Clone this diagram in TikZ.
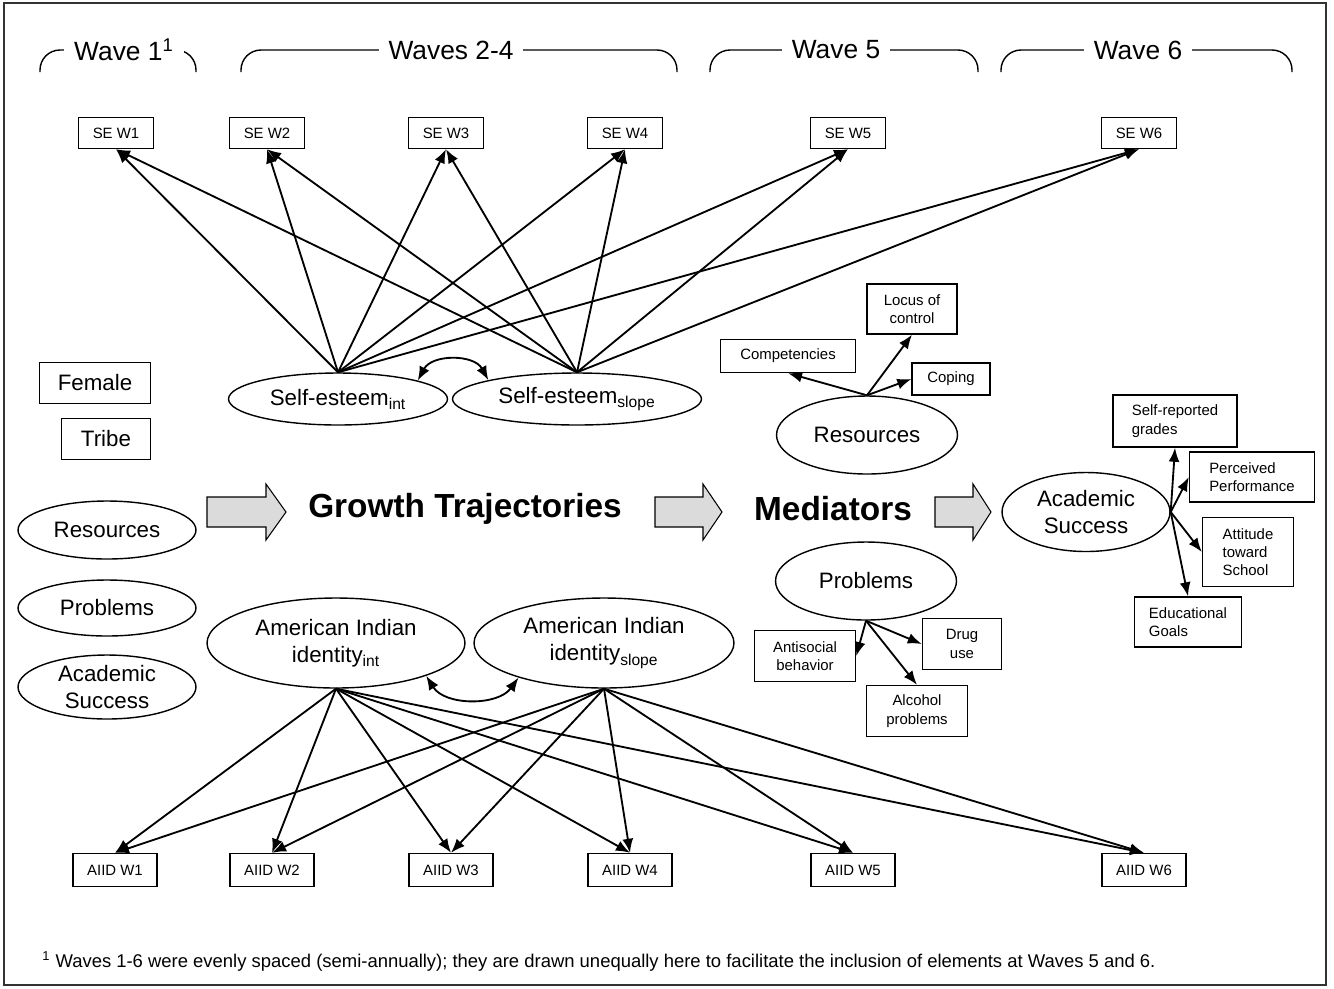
\documentclass[tikz,border=0pt]{standalone}
\usepackage{fontspec}
\setmainfont{Liberation Sans}
\usetikzlibrary{positioning,arrows.meta,shapes.geometric}
\tikzset{
  pathline/.style={-{Latex[length=8pt, width=6.2pt]}, line width=1.05pt},
  covline/.style={{Latex[length=8pt, width=6.2pt]}-{Latex[length=8pt, width=6.2pt]}, line width=1.05pt},
  obsbox/.style={draw, line width=0.8pt, minimum width=1.5cm, minimum height=0.62cm, inner sep=1pt, align=center, font=\fontsize{8.5}{10.4}\selectfont},
  aiidbox/.style={obsbox, minimum width=1.68cm, minimum height=0.66cm},
  latent/.style={draw, ellipse, line width=0.8pt, inner sep=0pt, align=center, font=\fontsize{12.7}{15.4}\selectfont},
  covbox/.style={draw, line width=0.8pt, minimum height=0.82cm, inner sep=1pt, font=\fontsize{12.7}{15.4}\selectfont},
  wavebrace/.style={line width=0.8pt, rounded corners=0.4cm},
  wavelabel/.style={fill=white, inner xsep=0.2cm, font=\fontsize{15}{18}\selectfont},
  stagelabel/.style={font=\fontsize{19}{22}\selectfont\bfseries},
  bigarrow/.style={draw, line width=0.6pt, fill=gray!28}
}
\begin{document}
\begin{tikzpicture}[x=0.02cm, y=-0.02cm]
  \useasboundingbox (0,0) rectangle (1334,988);
  \draw[line width=0.8pt, black!80] (4,3) rectangle (1326,985);

  % wave headers
  \draw[wavebrace] (40,72) -- (40,50) -- (196,50) -- (196,72);
  \draw[wavebrace] (241,72) -- (241,50) -- (677,50) -- (677,72);
  \draw[wavebrace] (710,72) -- (710,50) -- (978,50) -- (978,72);
  \draw[wavebrace] (1001,72) -- (1001,50) -- (1292,50) -- (1292,72);
  \node[wavelabel] (wave1) at (124,50) {Wave 1\textsuperscript{1}};
  \node[wavelabel] (wave24) at (451,50) {Waves 2-4};
  \node[wavelabel] (wave5) at (836,50) {Wave 5};
  \node[wavelabel] (wave6) at (1138,50) {Wave 6};

  % self-esteem indicators
  \node[obsbox] (se1) at (116,133) {SE W1};
  \node[obsbox] (se2) at (267,133) {SE W2};
  \node[obsbox] (se3) at (446,133) {SE W3};
  \node[obsbox] (se4) at (625,133) {SE W4};
  \node[obsbox] (se5) at (848,133) {SE W5};
  \node[obsbox] (se6) at (1139,133) {SE W6};
  \node[latent, minimum width=4.38cm, minimum height=1.04cm] (seint) at (338,399) {Self-esteem\textsubscript{int}};
  \node[latent, minimum width=4.98cm, minimum height=1.04cm] (seslope) at (577,399) {Self-esteem\textsubscript{slope}};

  % covariates
  \node[covbox, minimum width=2.22cm] (female) at (95,383) {Female};
  \node[covbox, minimum width=1.78cm] (tribe) at (106,439) {Tribe};
  \node[latent, minimum width=3.56cm, minimum height=1.16cm] (resleft) at (107,530) {Resources};
  \node[latent, minimum width=3.56cm, minimum height=1.12cm] (probleft) at (107,608) {Problems};
  \node[latent, minimum width=3.56cm, minimum height=1.28cm] (acadleft) at (107,687) {Academic\\Success};

  % stages
  \foreach \xa/\xb/\xc in {207/266/286, 655/703/722, 935/973/991}
    \draw[bigarrow] (\xa,497) -- (\xb,497) -- (\xb,484) -- (\xc,512) -- (\xb,540) -- (\xb,527) -- (\xa,527) -- cycle;
  \node[stagelabel] (growth) at (465,509) {Growth Trajectories};
  \node[stagelabel] (mediators) at (833,509) {Mediators};

  % mediators
  \node[latent, minimum width=3.62cm, minimum height=1.56cm] (res) at (867,435) {Resources};
  \node[obsbox, minimum width=2.7cm, minimum height=0.66cm] (comp) at (788,356) {Competencies};
  \node[obsbox, minimum width=1.8cm, minimum height=1.0cm] (locus) at (912,309) {Locus of\\control};
  \node[obsbox, minimum width=1.56cm, minimum height=0.64cm] (coping) at (951,379) {Coping};
  \node[latent, minimum width=3.62cm, minimum height=1.56cm] (prob) at (866,581) {Problems};
  \node[obsbox, minimum width=2.02cm, minimum height=1.02cm] (anti) at (805,656) {Antisocial\\behavior};
  \node[obsbox, minimum width=1.58cm, minimum height=1.02cm] (drug) at (962,644) {Drug\\use};
  \node[obsbox, minimum width=2.02cm, minimum height=1.02cm] (alc) at (917,711) {Alcohol\\problems};

  % outcome
  \node[latent, minimum width=3.36cm, minimum height=1.58cm] (acad) at (1086,512) {Academic\\Success};
  \node[obsbox, minimum width=2.48cm, minimum height=1.04cm, align=left] (grades) at (1175,421) {Self-reported\\grades};
  \node[obsbox, minimum width=2.5cm, minimum height=1.0cm, align=left] (perf) at (1252,477) {Perceived\\Performance};
  \node[obsbox, minimum width=1.82cm, minimum height=1.38cm, align=left] (att) at (1248,552) {Attitude\\toward\\School};
  \node[obsbox, minimum width=2.14cm, minimum height=1.0cm, align=left] (goals) at (1188,622) {Educational\\Goals};

  % identity
  \node[latent, minimum width=5.16cm, minimum height=1.8cm] (aiint) at (336,643) {American Indian\\identity\textsubscript{int}};
  \node[latent, minimum width=5.2cm, minimum height=1.8cm] (aislope) at (604,643) {American Indian\\identity\textsubscript{slope}};
  \node[aiidbox] (aiid1) at (115,870) {AIID W1};
  \node[aiidbox] (aiid2) at (272,870) {AIID W2};
  \node[aiidbox] (aiid3) at (451,870) {AIID W3};
  \node[aiidbox] (aiid4) at (630,870) {AIID W4};
  \node[aiidbox] (aiid5) at (853,870) {AIID W5};
  \node[aiidbox] (aiid6) at (1144,870) {AIID W6};

  % loadings
  \foreach \i in {1,...,6} {
    \draw[pathline] (seint.north) -- (se\i.south);
    \draw[pathline] (seslope.north) -- (se\i.south);
    \draw[pathline] (aiint.south) -- (aiid\i.north);
    \draw[pathline] (aislope.south) -- (aiid\i.north);
  }
  \draw[covline] (seint.13) .. controls (432,354) and (474,354) .. (seslope.168);
  \draw[covline] (aiint.-20) .. controls (445,706) and (498,706) .. (aislope.202);

  \draw[pathline] (res.north) -- (comp.south);
  \draw[pathline] (res.north) -- (locus.south);
  \draw[pathline] (res.north) -- (coping.west);
  \draw[pathline] (prob.south) -- (anti.east);
  \draw[pathline] (prob.south) -- (drug.west);
  \draw[pathline] (prob.south) -- (alc.north);
  \draw[pathline] (acad.east) -- (grades.south);
  \draw[pathline] (acad.east) -- (perf.west);
  \draw[pathline] (acad.east) -- (att.west);
  \draw[pathline] (acad.east) -- (goals.north);

  \node[anchor=west, inner xsep=0pt, font=\fontsize{10.5}{12}\selectfont] (note) at (42,961) {\textsuperscript{1} Waves 1-6 were evenly spaced (semi-annually); they are drawn unequally here to facilitate the inclusion of elements at Waves 5 and 6.};
\end{tikzpicture}
\end{document}
